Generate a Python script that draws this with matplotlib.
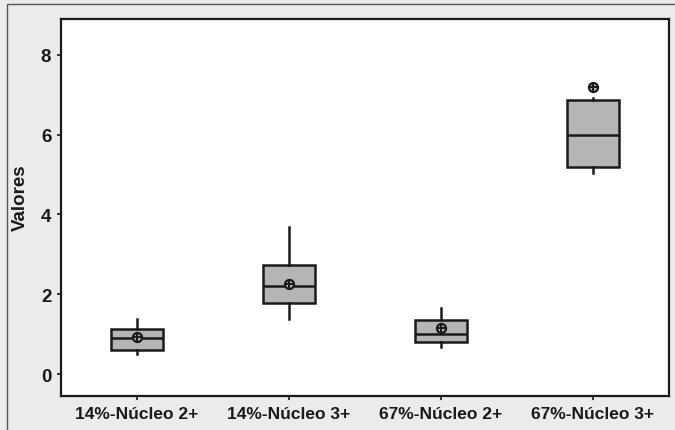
import matplotlib
matplotlib.use('Agg')
from matplotlib import pyplot as plt
from matplotlib.patches import Rectangle

categories = ['14%-Núcleo 2+', '14%-Núcleo 3+', '67%-Núcleo 2+', '67%-Núcleo 3+']
whisker_lo = [0.50, 1.375, 0.68, 5.05]
q1 = [0.60, 1.78, 0.80, 5.20]
medians = [0.90, 2.20, 1.00, 6.00]
q3 = [1.125, 2.73, 1.35, 6.88]
whisker_hi = [1.375, 3.68, 1.65, 6.93]
means = [0.93, 2.25, 1.15, None]
outliers = [[], [], [], [7.20]]
yticks = [0, 2, 4, 6, 8]


def main():
    plt.rcParams['font.family'] = ['Liberation Sans', 'DejaVu Sans']
    plt.rcParams['font.weight'] = 'bold'

    fig = plt.figure(figsize=(6.75, 4.31), dpi=100, facecolor='#ebebeb')
    ax = fig.add_axes([61 / 675, 1 - 397 / 431, (669 - 61) / 675, (397 - 20) / 431])

    stats = []
    for i, name in enumerate(categories):
        stats.append({
            'label': name,
            'whislo': whisker_lo[i],
            'q1': q1[i],
            'med': medians[i],
            'q3': q3[i],
            'whishi': whisker_hi[i],
            'fliers': outliers[i],
        })

    ax.bxp(stats, positions=range(1, 5), widths=0.345, patch_artist=True,
           showcaps=False,
           boxprops=dict(facecolor='#b5b5b5', edgecolor='#1a1a1a', linewidth=1.8),
           medianprops=dict(color='#1a1a1a', linewidth=1.8),
           whiskerprops=dict(color='#1a1a1a', linewidth=1.8),
           flierprops=dict(marker='o', markersize=6.5, markerfacecolor='#b5b5b5',
                           markeredgecolor='#1a1a1a', markeredgewidth=1.6))

    # mean symbol (circle with cross)
    for i, m in enumerate(means):
        if m is None:
            continue
        ax.plot(i + 1, m, marker='o', markersize=6.5, markerfacecolor='#b5b5b5',
                markeredgecolor='#1a1a1a', markeredgewidth=1.6, zorder=5)
        ax.plot(i + 1, m, marker='+', markersize=6.5, color='#1a1a1a',
                markeredgewidth=1.4, zorder=6)
    for i, fl in enumerate(outliers):
        for v in fl:
            ax.plot(i + 1, v, marker='+', markersize=6.5, color='#1a1a1a',
                    markeredgewidth=1.4, zorder=6)

    ax.set_xlim(0.5, 4.5)
    ax.set_ylim(-0.55, 8.9)
    ax.set_yticks(yticks)
    ax.set_xticks(range(1, 5))
    ax.set_xticklabels(categories, fontsize=12.5, fontweight='bold', color='#1a1a1a')
    ax.set_yticklabels([str(t) for t in yticks], fontsize=13.5, fontweight='bold',
                       color='#1a1a1a')
    ax.set_ylabel('Valores', fontsize=13.5, fontweight='bold', color='#1a1a1a',
                  va='center')
    ax.yaxis.set_label_coords(-0.067, 0.53)
    ax.tick_params(direction='out', length=3, width=1.2, color='#1a1a1a', pad=4)
    for s in ax.spines.values():
        s.set_linewidth(1.6)
        s.set_color('#1a1a1a')

    fig.patches.append(Rectangle((7 / 675, -0.05), 1.0, 1 - 5 / 431 + 0.05,
                                 transform=fig.transFigure, fill=False,
                                 edgecolor='#555555', linewidth=1.0))

    fig.savefig('out.png', dpi=100, facecolor=fig.get_facecolor())


if __name__ == '__main__':
    main()
